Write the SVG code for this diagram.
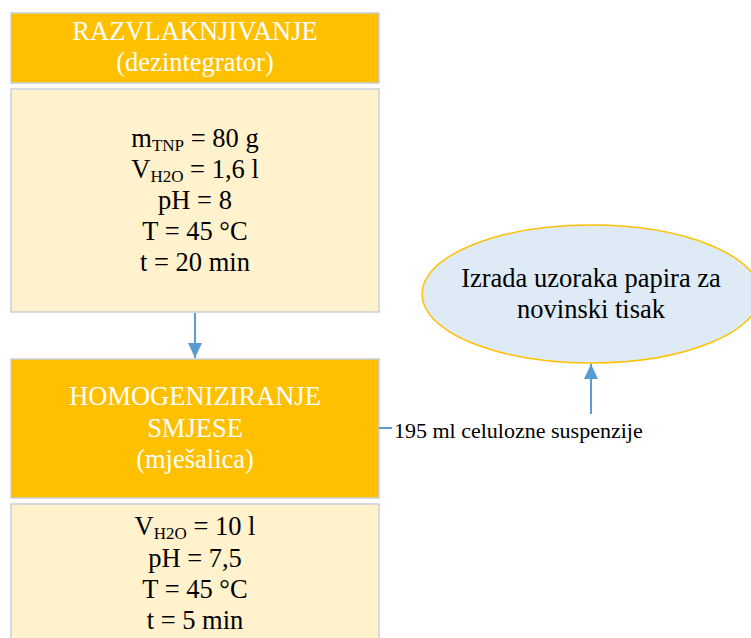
<svg xmlns="http://www.w3.org/2000/svg" width="751" height="638" viewBox="0 0 751 638">
<defs>
<style>
.hdr{fill:#FFC000;stroke:#C8D0DA;stroke-width:1.5}
.body{fill:#FFF2CC;stroke:#C8D0DA;stroke-width:1.5}
.ht{font-family:"Liberation Serif","Times New Roman",serif;font-size:26.5px;fill:#FFFFFF;text-anchor:middle}
.bt{font-family:"Liberation Serif","Times New Roman",serif;font-size:26.5px;fill:#000000;text-anchor:middle}
.sub{font-size:17px}
.lbl{font-family:"Liberation Serif","Times New Roman",serif;font-size:22px;fill:#000000}
.conn{stroke:#5B9BD5;stroke-width:2;fill:none}
</style>
<marker id="arr" markerWidth="15" markerHeight="14" refX="15" refY="7" orient="auto" markerUnits="userSpaceOnUse" viewBox="0 0 15 14">
<path d="M0,0 L15,7 L0,14 Z" fill="#5B9BD5"/>
</marker>
</defs>
<rect width="751" height="638" fill="#FFFFFF"/>
<g id="razvlaknjivanje">
<rect class="hdr" x="11" y="13" width="368" height="70"/>
<text class="ht" x="195" y="40">RAZVLAKNJIVANJE</text>
<text class="ht" x="195" y="71">(dezintegrator)</text>
</g>
<g id="razvlaknjivanje-params">
<rect class="body" x="11" y="89" width="368" height="223"/>
<text class="bt" x="195" y="147">m<tspan class="sub" dy="4">TNP</tspan><tspan dy="-4"> = 80 g</tspan></text>
<text class="bt" x="195" y="178">V<tspan class="sub" dy="4">H2O</tspan><tspan dy="-4"> = 1,6 l</tspan></text>
<text class="bt" x="195" y="209">pH = 8</text>
<text class="bt" x="195" y="240">T = 45 °C</text>
<text class="bt" x="195" y="271">t = 20 min</text>
</g>
<g id="homogeniziranje">
<rect class="hdr" x="11" y="359" width="368" height="139"/>
<text class="ht" x="195" y="405">HOMOGENIZIRANJE</text>
<text class="ht" x="195" y="437">SMJESE</text>
<text class="ht" x="195" y="468">(mješalica)</text>
</g>
<g id="homogeniziranje-params">
<rect class="body" x="11" y="504" width="368" height="150"/>
<text class="bt" x="195" y="535">V<tspan class="sub" dy="4">H2O</tspan><tspan dy="-4"> = 10 l</tspan></text>
<text class="bt" x="195" y="567">pH = 7,5</text>
<text class="bt" x="195" y="598">T = 45 °C</text>
<text class="bt" x="195" y="629">t = 5 min</text>
</g>
<g id="izrada">
<ellipse cx="591" cy="294" rx="169" ry="69" fill="#DEEBF7" stroke="#FFC000" stroke-width="1.5"/>
<text class="bt" x="591" y="287">Izrada uzoraka papira za</text>
<text class="bt" x="591" y="318">novinski tisak</text>
</g>
<g id="connectors">
<line class="conn" x1="195" y1="313" x2="195" y2="358" marker-end="url(#arr)"/>
<line class="conn" x1="379" y1="428" x2="392" y2="428"/>
<line class="conn" x1="591" y1="414" x2="591" y2="364" marker-end="url(#arr)"/>
<text class="lbl" x="394" y="438">195 ml celulozne suspenzije</text>
</g>
</svg>
